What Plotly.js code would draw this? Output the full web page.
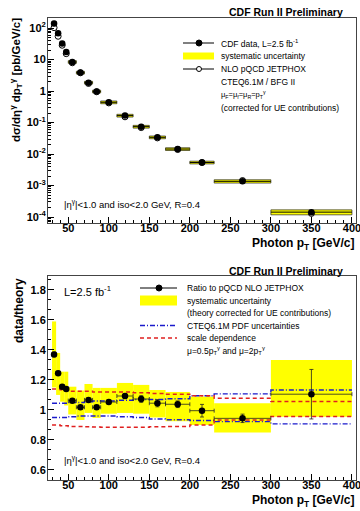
<!DOCTYPE html>
<html><head><meta charset="utf-8">
<script src="https://cdn.plot.ly/plotly-3.0.1.min.js"></script>
<style>html,body{margin:0;padding:0;background:#fff}#chart{width:360px;height:511px}</style>
</head><body><div id="chart"></div>
<script>
// ---------- data ----------
const binCenters    = [32.5, 37.5, 42.5, 47.5, 55, 65, 75, 85, 100, 120, 140, 160, 185, 215, 265, 350];
const binHalfWidths = [2.5, 2.5, 2.5, 2.5, 5, 5, 5, 5, 10, 10, 10, 10, 15, 15, 35, 50];
const binEdges      = [30, 35, 40, 45, 50, 60, 70, 80, 90, 110, 130, 150, 170, 200, 230, 300, 400];

const xsecData   = [141, 68, 32.5, 17.5, 8.4, 3.85, 1.85, 0.97, 0.44, 0.166, 0.074, 0.034, 0.0144, 0.0054, 0.00136, 0.000143];
const xsecTheory = [103, 55, 28.5, 15.4, 7.9, 3.8, 1.74, 0.95, 0.42, 0.152, 0.069, 0.0325, 0.0139, 0.0054, 0.00144, 0.000130];
const xsecSysFrac = [0.16, 0.12, 0.10, 0.10, 0.10, 0.10, 0.10, 0.10, 0.10, 0.10, 0.10, 0.10, 0.10, 0.10, 0.12, 0.18];

const ratio      = [1.37, 1.245, 1.155, 1.14, 1.062, 1.018, 1.067, 1.018, 1.053, 1.093, 1.073, 1.045, 1.038, 0.995, 0.944, 1.105];
const ratioStat  = [0.015, 0.012, 0.01, 0.01, 0.01, 0.01, 0.01, 0.01, 0.012, 0.015, 0.022, 0.024, 0.022, 0.042, 0.028, 0.165];
const ratioSysHigh = [1.59, 1.38, 1.255, 1.255, 1.155, 1.13, 1.173, 1.147, 1.147, 1.18, 1.167, 1.133, 1.12, 1.089, 1.045, 1.333];
const ratioSysLow  = [1.15, 1.10, 1.055, 1.03, 0.97, 0.933, 0.98, 0.947, 0.975, 0.98, 0.975, 0.95, 0.925, 0.90, 0.849, 0.955];

const pdfHigh   = [1.045, 1.045, 1.045, 1.045, 1.05, 1.05, 1.055, 1.06, 1.06, 1.065, 1.07, 1.07, 1.075, 1.095, 1.107, 1.133];
const pdfLow    = [0.95, 0.95, 0.95, 0.95, 0.955, 0.96, 0.96, 0.96, 0.96, 0.955, 0.95, 0.94, 0.935, 0.93, 0.922, 0.907];
const scaleHigh = [1.14, 1.14, 1.135, 1.13, 1.125, 1.125, 1.125, 1.12, 1.12, 1.12, 1.115, 1.11, 1.105, 1.095, 1.078, 1.056];
const scaleLow  = [0.90, 0.90, 0.895, 0.895, 0.89, 0.89, 0.888, 0.886, 0.885, 0.885, 0.885, 0.888, 0.89, 0.90, 0.933, 0.956];

const xTickVals = [50, 100, 150, 200, 250, 300, 350, 400];
const xTickText = ['50', '100', '150', '200', '250', '300', '350', '400'];
const logTickVals = [1e-4, 1e-3, 1e-2, 1e-1, 1, 10, 100];
const logTickText = ['10<sup>-4</sup>', '10<sup>-3</sup>', '10<sup>-2</sup>', '10<sup>-1</sup>', '1', '10', '10<sup>2</sup>'];
const ratioTickVals = [0.6, 0.8, 1.0, 1.2, 1.4, 1.6, 1.8];
const ratioTickText = ['0.6', '0.8', '1', '1.2', '1.4', '1.6', '1.8'];

// ---------- geometry helpers ----------
const W = 360, H = 511, ML = 48, MR = 4, MT = 18, MB = 31;
const PW = W - ML - MR, PH = H - MT - MB;
const X = px => (px - ML) / PW;
const Y = py => (H - MB - py) / PH;
const F = 'Liberation Sans, Arial, Helvetica, sans-serif';
const YEL = '#ffff00';

const minorLog = [];
for (let e = -5; e <= 2; e++) for (let m = 2; m <= 9; m++) minorLog.push(m * Math.pow(10, e));
const minorRatio = [];
for (let v = 0.4; v < 2.0; v += 0.2) { minorRatio.push(+(v + 0.2/3).toFixed(4), +(v + 0.4/3).toFixed(4)); }

const step = arr => arr.concat([arr[arr.length - 1]]);

// ---------- traces ----------
const traces = [
  { type: 'bar', xaxis: 'x', yaxis: 'y', x: binCenters,
    base: xsecData.map((v, i) => v * (1 - xsecSysFrac[i])),
    y: xsecData.map((v, i) => v * 2 * xsecSysFrac[i]),
    width: binHalfWidths.map(w => 2 * w),
    marker: { color: YEL, line: { color: '#000', width: 0.6 } }, hoverinfo: 'skip' },
  { type: 'scatter', mode: 'markers', xaxis: 'x', yaxis: 'y', x: binCenters, y: xsecTheory,
    marker: { symbol: 'circle-open', size: 6, color: '#000', line: { width: 1, color: '#000' } } },
  { type: 'scatter', mode: 'markers', xaxis: 'x', yaxis: 'y', x: binCenters, y: xsecData,
    marker: { symbol: 'circle', size: 6.5, color: '#000' },
    error_x: { type: 'data', array: binHalfWidths, width: 0, thickness: 1, color: '#000' } },

  { type: 'bar', xaxis: 'x2', yaxis: 'y2', x: binCenters, base: ratioSysLow,
    y: ratioSysHigh.map((v, i) => v - ratioSysLow[i]),
    width: binHalfWidths.map(w => 2 * w),
    marker: { color: YEL, line: { width: 0 } }, hoverinfo: 'skip' },
  { type: 'scatter', mode: 'lines', xaxis: 'x2', yaxis: 'y2', x: binEdges, y: step(pdfHigh),
    line: { shape: 'hv', color: '#1a1acc', width: 1.4, dash: '5px,2px,1px,2px' } },
  { type: 'scatter', mode: 'lines', xaxis: 'x2', yaxis: 'y2', x: binEdges, y: step(pdfLow),
    line: { shape: 'hv', color: '#1a1acc', width: 1.4, dash: '5px,2px,1px,2px' } },
  { type: 'scatter', mode: 'lines', xaxis: 'x2', yaxis: 'y2', x: binEdges, y: step(scaleHigh),
    line: { shape: 'hv', color: '#e02020', width: 1.4, dash: '4px,3px' } },
  { type: 'scatter', mode: 'lines', xaxis: 'x2', yaxis: 'y2', x: binEdges, y: step(scaleLow),
    line: { shape: 'hv', color: '#e02020', width: 1.4, dash: '4px,3px' } },
  { type: 'scatter', mode: 'markers', xaxis: 'x2', yaxis: 'y2', x: binCenters, y: ratio,
    marker: { symbol: 'circle', size: 6.5, color: '#000' },
    error_x: { type: 'data', array: binHalfWidths, width: 2, thickness: 0.8, color: '#222' },
    error_y: { type: 'data', array: ratioStat, width: 2, thickness: 0.8, color: '#222' } }
];

// ---------- axes ----------
const tickFont = { family: F, size: 11, weight: 'bold', color: '#000' };
const xAxisBase = {
  range: [25, 405], tickmode: 'array', tickvals: xTickVals, ticktext: xTickText,
  ticks: 'inside', ticklen: 6, tickwidth: 1, tickcolor: '#000',
  ticklabelstandoff: -5, ticklabeloverflow: 'allow',
  minor: { tickmode: 'linear', tick0: 0, dtick: 10, ticks: 'inside', ticklen: 3, tickwidth: 1, tickcolor: '#000' },
  showline: true, linecolor: '#444', linewidth: 1, mirror: true,
  showgrid: false, zeroline: false, tickfont: tickFont
};
const yAxisCommon = {
  tickmode: 'array', ticks: 'inside', ticklen: 6, tickwidth: 1, tickcolor: '#000',
  ticklabelstandoff: -1, ticklabeloverflow: 'allow',
  showline: true, linecolor: '#444', linewidth: 1, mirror: true,
  showgrid: false, zeroline: false, tickfont: tickFont
};

const layout = {
  width: W, height: H, margin: { l: ML, r: MR, t: MT, b: MB },
  paper_bgcolor: '#fff', plot_bgcolor: '#fff', showlegend: false, barmode: 'overlay',
  font: { family: F, color: '#000' },
  xaxis: Object.assign({}, xAxisBase, { domain: [0, 1], anchor: 'y' }),
  yaxis: Object.assign({}, yAxisCommon, {
    domain: [Y(223), 1], anchor: 'x', type: 'log', range: [-4.19, 2.32],
    tickvals: logTickVals, ticktext: logTickText,
    minor: { tickmode: 'array', tickvals: minorLog, ticks: 'inside', ticklen: 3, tickwidth: 1, tickcolor: '#000' }
  }),
  xaxis2: Object.assign({}, xAxisBase, { domain: [0, 1], anchor: 'y2' }),
  yaxis2: Object.assign({}, yAxisCommon, {
    domain: [0, Y(276)], anchor: 'x2', range: [0.533, 1.893],
    tickvals: ratioTickVals, ticktext: ratioTickText,
    minor: { tickmode: 'array', tickvals: minorRatio, ticks: 'inside', ticklen: 3, tickwidth: 1, tickcolor: '#000' }
  }),
  annotations: [],
  shapes: []
};

function txt(text, px, py, o) {
  o = o || {};
  layout.annotations.push(Object.assign({
    xref: 'paper', yref: 'paper', x: X(px), y: Y(py), text: text, showarrow: false,
    xanchor: 'left', yanchor: 'middle', borderpad: 0,
    font: { family: F, size: 8.5, color: '#000' }
  }, o));
}
function hline(x0, x1, py, line) {
  layout.shapes.push({ type: 'line', xref: 'paper', yref: 'paper', x0: X(x0), x1: X(x1), y0: Y(py), y1: Y(py), line: line });
}
function rect(x0, x1, y0, y1, color) {
  layout.shapes.push({ type: 'rect', xref: 'paper', yref: 'paper', x0: X(x0), x1: X(x1), y0: Y(y1), y1: Y(y0), fillcolor: color, line: { width: 0 } });
}
function dot(px, py, size, filled) {
  layout.shapes.push({ type: 'circle', xref: 'paper', yref: 'paper', xsizemode: 'pixel', ysizemode: 'pixel',
    xanchor: X(px), yanchor: Y(py), x0: -size / 2, x1: size / 2, y0: -size / 2, y1: size / 2,
    fillcolor: filled ? '#000' : '#fff', line: { color: '#000', width: 1 } });
}

// titles
const titleFont = { family: F, size: 10.5, weight: 'bold', color: '#000' };
txt('CDF Run II Preliminary', 344, 12, { xanchor: 'right', font: titleFont });
txt('CDF Run II Preliminary', 344, 270.5, { xanchor: 'right', font: titleFont });

const axTitleFont = { family: F, size: 12, weight: 'bold', color: '#000' };
txt('Photon p<sub>T</sub> [GeV/c]', 355, 244, { xanchor: 'right', font: axTitleFont });
txt('Photon p<sub>T</sub> [GeV/c]', 355, 501, { xanchor: 'right', font: axTitleFont });
txt('dσ/dη<sup>γ</sup> dp<sub>T</sub><sup>γ</sup> [pb/GeV/c]', 16, 17, { xanchor: 'center', yanchor: 'top', textangle: -90,
  font: { family: F, size: 11.5, weight: 'bold', color: '#000' } });
txt('data/theory', 18.5, 277, { xanchor: 'center', yanchor: 'top', textangle: -90, font: axTitleFont });

// top legend
const topRows = [43, 56, 69, 82, 95, 108];
hline(183, 214, topRows[0], { color: '#000', width: 1 });
dot(199, topRows[0], 6, true);
txt('CDF data, L=2.5 fb<sup>-1</sup>', 220, topRows[0]);
rect(183, 214, topRows[1] - 3.5, topRows[1] + 3.5, YEL);
txt('systematic uncertainty', 220, topRows[1]);
hline(183, 214, topRows[2], { color: '#000', width: 1 });
dot(199, topRows[2], 5, false);
txt('NLO pQCD JETPHOX', 220, topRows[2]);
txt('CTEQ6.1M / BFG II', 220, topRows[3]);
txt('μ<sub>F</sub>=μ<sub>f</sub>=μ<sub>R</sub>=p<sub>T</sub><sup>γ</sup>', 220, topRows[4], { font: { family: F, size: 7.5, color: '#000' } });
txt('(corrected for UE contributions)', 220, topRows[5]);
txt('|η<sup>γ</sup>|&lt;1.0 and iso&lt;2.0 GeV, R=0.4', 63, 204, { font: { family: F, size: 9.5, color: '#000' } });

// bottom legend
const botRows = [288, 300.5, 313, 325.5, 338, 350.5];
hline(140, 177, botRows[0], { color: '#000', width: 1 });
dot(159, botRows[0], 6, true);
txt('Ratio to pQCD NLO JETPHOX', 186, botRows[0]);
rect(140, 177, botRows[1] - 5, botRows[1] + 5, YEL);
txt('systematic uncertainty', 186, botRows[1]);
txt('(theory corrected for UE contributions)', 186, botRows[2]);
hline(140, 177, botRows[3], { color: '#1a1acc', width: 1.4, dash: '5px,2px,1px,2px' });
txt('CTEQ6.1M PDF uncertainties', 186, botRows[3]);
hline(140, 177, botRows[4], { color: '#e02020', width: 1.4, dash: '4px,3px' });
txt('scale dependence', 186, botRows[4]);
txt('μ=0.5p<sub>T</sub><sup>γ</sup> and μ=2p<sub>T</sub><sup>γ</sup>', 186, botRows[5]);
txt('L=2.5 fb<sup>-1</sup>', 63, 291, { font: { family: F, size: 11, color: '#000' } });
txt('|η<sup>γ</sup>|&lt;1.0 and iso&lt;2.0 GeV, R=0.4', 63, 460, { font: { family: F, size: 9.5, color: '#000' } });

Plotly.newPlot('chart', traces, layout, { displayModeBar: false, staticPlot: true });
</script>
</body></html>
